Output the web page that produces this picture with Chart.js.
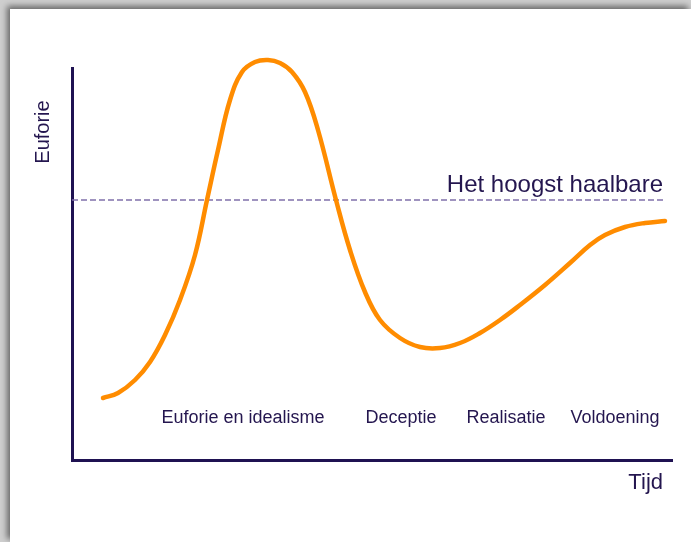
<!DOCTYPE html>
<html>
<head>
<meta charset="utf-8">
<script src="https://cdn.jsdelivr.net/npm/chart.js@4"></script>
<style>
    html, body { margin: 0; padding: 0; }
    body { width: 691px; height: 542px; background: #cfcfcf; position: relative; overflow: hidden; }
    #frame {
        position: absolute; left: 10px; top: 9px; width: 681px; height: 533px;
        background: #ffffff;
        box-shadow: -3px -3px 6px rgba(0, 0, 0, 0.5);
    }
</style>
</head>
<body>
<div id="frame"><canvas id="curveChart" width="681" height="533"></canvas></div>
<script>
// time axis (arbitrary units) and euphoria level
const timeX = [31, 46, 63, 78, 93, 108, 123, 135, 146, 158, 170, 183, 196, 208, 220, 233, 246, 264, 278, 293, 308, 328, 348, 368, 388, 408, 428, 448, 473, 498, 518, 533, 553, 573, 593];
const euphoria = [62, 67, 80, 98, 125, 160, 205, 260, 310, 360, 388, 398, 400, 397, 388, 368, 330, 260, 210, 168, 140, 122, 113, 112, 117, 127, 140, 155, 175, 197, 215, 225, 233, 237, 239];

const bestLevel = 260;
const bestLabel = 'Het hoogst haalbare';
const phaseLabels = ['Euforie en idealisme', 'Deceptie', 'Realisatie', 'Voldoening'];
const phaseX = [171, 329, 434, 543];
const phaseY = 42;
const xTitle = 'Tijd';
const yTitle = 'Euforie';

const navy = '#1f1252';
const textColor = '#24164f';

const textPlugin = {
    id: 'curveText',
    afterDraw(chart) {
        const ctx = chart.ctx;
        const x = chart.scales.x;
        const y = chart.scales.y;
        ctx.save();
        ctx.fillStyle = textColor;
        ctx.textBaseline = 'middle';

        ctx.font = '18px "Liberation Sans", Arial, sans-serif';
        ctx.textAlign = 'center';
        phaseLabels.forEach((label, i) => {
            ctx.fillText(label, x.getPixelForValue(phaseX[i]), y.getPixelForValue(phaseY));
        });

        ctx.font = '24px "Liberation Sans", Arial, sans-serif';
        ctx.textAlign = 'right';
        ctx.fillText(bestLabel, x.getPixelForValue(591), y.getPixelForValue(bestLevel) - 15);

        ctx.font = '22px "Liberation Sans", Arial, sans-serif';
        ctx.fillText(xTitle, x.right - 9, y.bottom + 23);

        ctx.translate(x.left - 29, y.top + 64);
        ctx.rotate(-Math.PI / 2);
        ctx.textAlign = 'center';
        ctx.font = '20px "Liberation Sans", Arial, sans-serif';
        ctx.fillText(yTitle, 0, 0);
        ctx.restore();
    }
};

const ctx = document.getElementById('curveChart').getContext('2d');
new Chart(ctx, {
    type: 'line',
    data: {
        datasets: [
            {
                data: timeX.map((t, i) => ({ x: t, y: euphoria[i] })),
                borderColor: '#ff8c00',
                borderWidth: 4.5,
                borderCapStyle: 'round',
                pointRadius: 0,
                tension: 0.4,
                clip: false
            },
            {
                data: [{ x: 0, y: bestLevel }, { x: 593, y: bestLevel }],
                borderColor: '#8070aa',
                borderWidth: 1.6,
                borderDash: [6, 3],
                pointRadius: 0
            }
        ]
    },
    plugins: [textPlugin],
    options: {
        responsive: false,
        animation: false,
        layout: {
            padding: { left: 62, top: 59, right: 19, bottom: 82 }
        },
        plugins: {
            legend: { display: false },
            tooltip: { enabled: false }
        },
        scales: {
            x: {
                type: 'linear',
                min: 0,
                max: 600,
                grid: { display: false, drawTicks: false },
                ticks: { display: false },
                border: { display: true, color: navy, width: 3 }
            },
            y: {
                min: 0,
                max: 392,
                grid: { display: false, drawTicks: false },
                ticks: { display: false },
                border: { display: true, color: navy, width: 3 }
            }
        }
    }
});
</script>
</body>
</html>
